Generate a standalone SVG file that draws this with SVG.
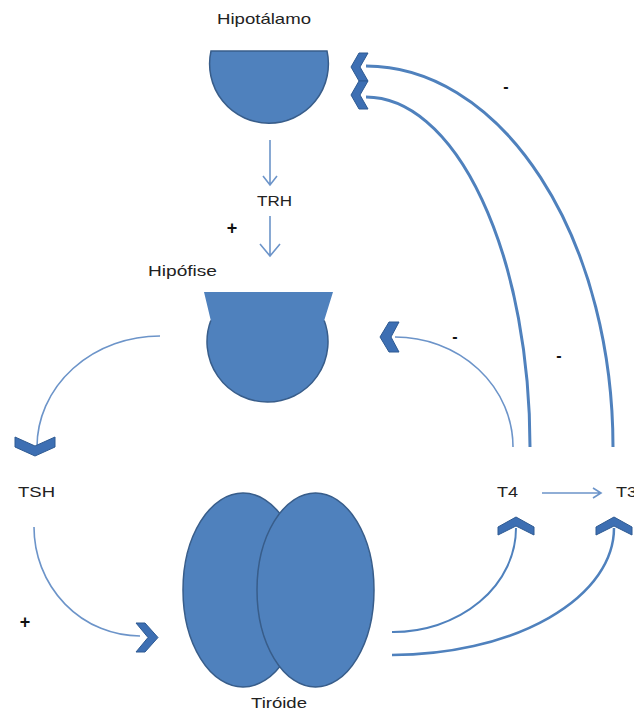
<svg xmlns="http://www.w3.org/2000/svg" width="634" height="720" viewBox="0 0 634 720">
<style>
.lbl{font-family:"Liberation Sans",Arial,sans-serif;font-size:14.5px;fill:#222}
.sign{font-family:"Liberation Sans",Arial,sans-serif;font-weight:bold;fill:#111}
.organ{fill:#4f81bd;stroke:#385d8a;stroke-width:1.5}
.chev{fill:#3d6fb3;stroke:#2e5a92;stroke-width:1}
.arc{fill:none;stroke:#4f81bd}
.thin{fill:none;stroke:#6c94c9;stroke-width:1.6}
</style>
<rect width="634" height="720" fill="#ffffff"/>

<g id="hipotalamo">
  <path class="organ" d="M211,51 L327,51 A59.4,59.4 0 1 1 211,51 Z"/>
  <text class="lbl" x="217" y="24" textLength="94" lengthAdjust="spacingAndGlyphs">Hipotálamo</text>
</g>

<g id="trh">
  <text class="lbl" x="257" y="206" textLength="35" lengthAdjust="spacingAndGlyphs">TRH</text>
</g>

<g id="hipofise">
  <path fill="#4f81bd" d="M204,292 L333,292 L324.2,320.5 A60.5,60.5 0 1 1 210.8,320.5 Z"/>
  <path fill="none" stroke="#385d8a" stroke-width="1.5" d="M324.2,320.5 A60.5,60.5 0 1 1 210.8,320.5"/>
  <text class="lbl" x="148" y="276" textLength="69" lengthAdjust="spacingAndGlyphs">Hipófise</text>
</g>

<g id="tsh">
  <text class="lbl" x="18" y="497" textLength="37" lengthAdjust="spacingAndGlyphs">TSH</text>
</g>

<g id="tiroide">
  <ellipse class="organ" cx="243" cy="590" rx="60" ry="97"/>
  <ellipse class="organ" cx="315.5" cy="590" rx="58.5" ry="97"/>
  <text class="lbl" x="251" y="708" textLength="56" lengthAdjust="spacingAndGlyphs">Tiróide</text>
</g>

<g id="t4">
  <text class="lbl" x="497" y="497" textLength="21" lengthAdjust="spacingAndGlyphs">T4</text>
</g>

<g id="t3">
  <text class="lbl" x="616" y="497" textLength="21" lengthAdjust="spacingAndGlyphs">T3</text>
</g>

<g id="connectors">
  <!-- TRH arrows -->
  <path class="thin" d="M270,140 L270,185 M263,176 L270,185 L277,176"/>
  <path class="thin" stroke-width="2.2" d="M270,216 L270,256 M260,244 L270,256 L280,244"/>
  <!-- Hipofise -> TSH -->
  <path class="thin" d="M160,336 A123,111 0 0 0 37,447"/>
  <polygon class="chev" points="15,437 35,446 55,437 55,447 35,456 15,447"/>
  <!-- TSH -> Tiroide -->
  <path class="thin" d="M34,527 A106,109 0 0 0 140,636"/>
  <polygon class="chev" points="136,623 145,623 158,637.5 145,652 136,652 148,637.5"/>
  <!-- Tiroide -> T4, T3 -->
  <path class="arc" stroke-width="2" d="M392,632 A123,104 0 0 0 516,528"/>
  <path class="arc" stroke-width="2.5" d="M392,655 A222,127 0 0 0 614,528"/>
  <polygon class="chev" points="498,527 516,517 534,527 534,535 516,526 498,535"/>
  <polygon class="chev" points="596,527 614,517 632,527 632,535 614,526 596,535"/>
  <!-- T4 -> T3 -->
  <path class="thin" d="M542,493 L601,493 M593,488 L601,493 L593,498"/>
  <!-- feedback T4 -> Hipofise -->
  <path class="thin" d="M513,447 A118,110 0 0 0 395,337"/>
  <polygon class="chev" points="389,322 399,322 391,337 399,352 389,352 380,337"/>
  <!-- feedback T3, T4 -> Hipotalamo -->
  <path class="arc" stroke-width="3" d="M366,66 A247,381 0 0 1 613,447"/>
  <path class="arc" stroke-width="3" d="M366,97 A164,350 0 0 1 530,447"/>
  <polygon class="chev" points="359,53 368,53 360,67 368,81 359,81 351,67"/>
  <polygon class="chev" points="359,81 368,81 360,95 368,109 359,109 351,95"/>
</g>

<g id="signs">
  <text class="sign" x="232" y="234" font-size="18" text-anchor="middle">+</text>
  <text class="sign" x="25" y="628" font-size="18" text-anchor="middle">+</text>
  <text class="sign" x="506" y="92" font-size="16" text-anchor="middle">-</text>
  <text class="sign" x="455" y="342" font-size="16" text-anchor="middle">-</text>
  <text class="sign" x="559" y="361" font-size="16" text-anchor="middle">-</text>
</g>
</svg>
